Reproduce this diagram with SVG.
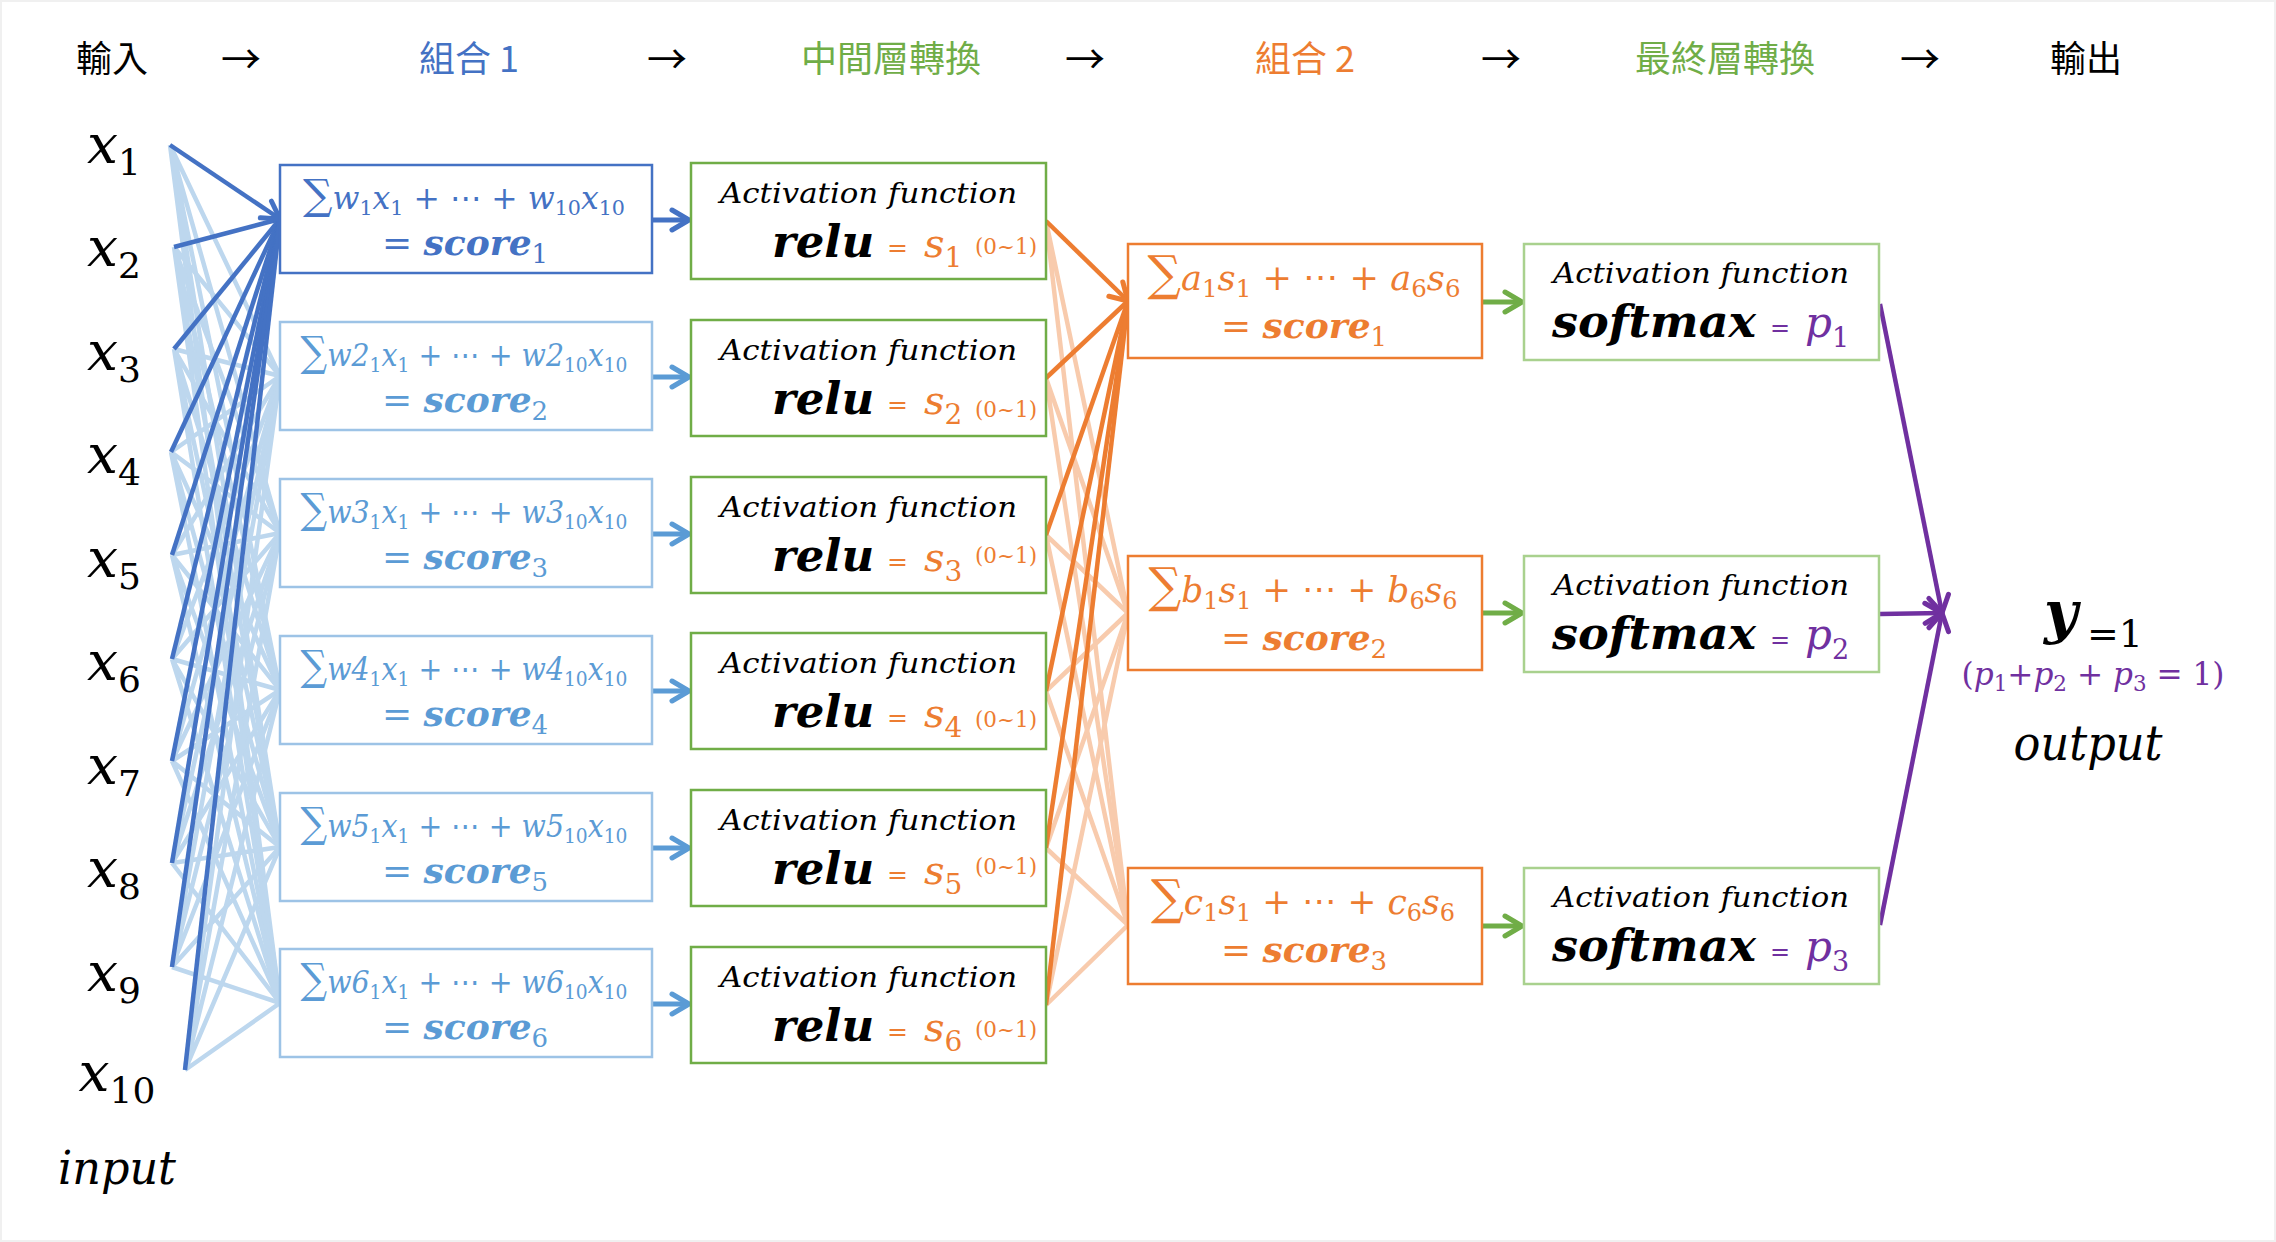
<svg xmlns="http://www.w3.org/2000/svg" width="2276" height="1242" viewBox="0 0 2276 1242">
<style>
.hdr{font-family:'Noto Sans CJK TC','Noto Sans CJK SC',sans-serif;font-size:36px;text-anchor:middle}
.arr{font-family:'Noto Sans CJK TC','DejaVu Sans',sans-serif;font-size:40px;text-anchor:middle;fill:#000}
.m{font-family:'DejaVu Serif','Liberation Serif',serif;font-style:italic}
.up{font-style:normal}
.b{font-weight:bold}
.bx1{fill:#fff;stroke:#4472C4;stroke-width:2.5}
.bx2{fill:#fff;stroke:#9DC3E6;stroke-width:2.5}
.gbx{fill:#fff;stroke:#70AD47;stroke-width:2.5}
.obx{fill:#fff;stroke:#ED7D31;stroke-width:2.5}
.sbx{fill:#fff;stroke:#A9D18E;stroke-width:2.5}
.lb{stroke:#BDD7EE;stroke-width:4.5;fill:none}
.db{stroke:#4472C4;stroke-width:4.5;fill:none}
.lo{stroke:#F8CBAD;stroke-width:4.5;fill:none}
.do{stroke:#ED7D31;stroke-width:4.5;fill:none}
.tb1{fill:#4472C4}
.tb2{fill:#5B9BD5}
.tor{fill:#ED7D31}
.tpu{fill:#7030A0}
.sg{font-size:42px}
.sgo{font-size:48px}
.rng{font-size:23px}
</style>
<defs>
<marker id="mdb" viewBox="-20 -12 24 24" refX="0" refY="0" markerWidth="24" markerHeight="24" orient="auto" markerUnits="userSpaceOnUse" overflow="visible"><path d="M-17,-10 L0,0 L-17,10" fill="none" stroke="#4472C4" stroke-width="5" stroke-linecap="round" stroke-linejoin="round"/></marker>
<marker id="mmb" viewBox="-20 -12 24 24" refX="0" refY="0" markerWidth="24" markerHeight="24" orient="auto" markerUnits="userSpaceOnUse" overflow="visible"><path d="M-17,-10 L0,0 L-17,10" fill="none" stroke="#5B9BD5" stroke-width="5" stroke-linecap="round" stroke-linejoin="round"/></marker>
<marker id="mor" viewBox="-20 -12 24 24" refX="0" refY="0" markerWidth="24" markerHeight="24" orient="auto" markerUnits="userSpaceOnUse" overflow="visible"><path d="M-17,-10 L0,0 L-17,10" fill="none" stroke="#ED7D31" stroke-width="5" stroke-linecap="round" stroke-linejoin="round"/></marker>
<marker id="mgr" viewBox="-20 -12 24 24" refX="0" refY="0" markerWidth="24" markerHeight="24" orient="auto" markerUnits="userSpaceOnUse" overflow="visible"><path d="M-17,-10 L0,0 L-17,10" fill="none" stroke="#70AD47" stroke-width="5" stroke-linecap="round" stroke-linejoin="round"/></marker>
<marker id="mpu" viewBox="-20 -12 24 24" refX="0" refY="0" markerWidth="24" markerHeight="24" orient="auto" markerUnits="userSpaceOnUse" overflow="visible"><path d="M-17,-10 L0,0 L-17,10" fill="none" stroke="#7030A0" stroke-width="5" stroke-linecap="round" stroke-linejoin="round"/></marker>
</defs>

<rect x="0" y="0" width="2276" height="1242" fill="#F0F0F0"/>
<rect x="2" y="2" width="2272" height="1238" fill="#FFFFFF"/>

<g id="headers">
<text class="hdr" x="112" y="72" fill="#000">輸入</text>
<text class="arr" x="241" y="74">→</text>
<text class="hdr" x="469" y="72" fill="#4472C4">組合 1</text>
<text class="arr" x="667" y="74">→</text>
<text class="hdr" x="891" y="72" fill="#70AD47">中間層轉換</text>
<text class="arr" x="1085" y="74">→</text>
<text class="hdr" x="1305" y="72" fill="#ED7D31">組合 2</text>
<text class="arr" x="1501" y="74">→</text>
<text class="hdr" x="1725" y="72" fill="#70AD47">最終層轉換</text>
<text class="arr" x="1920" y="74">→</text>
<text class="hdr" x="2086" y="72" fill="#000">輸出</text>
</g>

<g id="connectors">
<g id="input-light">
<path class="lb" d="M170,145 L280,376 M170,145 L280,533 M170,145 L280,690 M170,145 L280,847 M170,145 L280,1003"/>
<path class="lb" d="M174,247 L280,376 M174,247 L280,533 M174,247 L280,690 M174,247 L280,847 M174,247 L280,1003"/>
<path class="lb" d="M174,349 L280,376 M174,349 L280,533 M174,349 L280,690 M174,349 L280,847 M174,349 L280,1003"/>
<path class="lb" d="M171,452 L280,376 M171,452 L280,533 M171,452 L280,690 M171,452 L280,847 M171,452 L280,1003"/>
<path class="lb" d="M172,555 L280,376 M172,555 L280,533 M172,555 L280,690 M172,555 L280,847 M172,555 L280,1003"/>
<path class="lb" d="M172,659 L280,376 M172,659 L280,533 M172,659 L280,690 M172,659 L280,847 M172,659 L280,1003"/>
<path class="lb" d="M172,761 L280,376 M172,761 L280,533 M172,761 L280,690 M172,761 L280,847 M172,761 L280,1003"/>
<path class="lb" d="M172,863 L280,376 M172,863 L280,533 M172,863 L280,690 M172,863 L280,847 M172,863 L280,1003"/>
<path class="lb" d="M172,967 L280,376 M172,967 L280,533 M172,967 L280,690 M172,967 L280,847 M172,967 L280,1003"/>
<path class="lb" d="M185,1070 L280,376 M185,1070 L280,533 M185,1070 L280,690 M185,1070 L280,847 M185,1070 L280,1003"/>
</g>
<g id="input-dark">
<line class="db" x1="174" y1="247" x2="280" y2="219"/>
<line class="db" x1="174" y1="349" x2="280" y2="219"/>
<line class="db" x1="171" y1="452" x2="280" y2="219"/>
<line class="db" x1="172" y1="555" x2="280" y2="219"/>
<line class="db" x1="172" y1="659" x2="280" y2="219"/>
<line class="db" x1="172" y1="761" x2="280" y2="219"/>
<line class="db" x1="172" y1="863" x2="280" y2="219"/>
<line class="db" x1="172" y1="967" x2="280" y2="219"/>
<line class="db" x1="185" y1="1070" x2="280" y2="219"/>
<line class="db" x1="170" y1="145" x2="280" y2="219" marker-end="url(#mdb)"/>
</g>
<g id="score-to-relu">
<line x1="652" y1="220" x2="689" y2="220" stroke="#4472C4" stroke-width="5" marker-end="url(#mdb)"/>
<line x1="652" y1="377" x2="689" y2="377" stroke="#5B9BD5" stroke-width="5" marker-end="url(#mmb)"/>
<line x1="652" y1="534" x2="689" y2="534" stroke="#5B9BD5" stroke-width="5" marker-end="url(#mmb)"/>
<line x1="652" y1="691" x2="689" y2="691" stroke="#5B9BD5" stroke-width="5" marker-end="url(#mmb)"/>
<line x1="652" y1="848" x2="689" y2="848" stroke="#5B9BD5" stroke-width="5" marker-end="url(#mmb)"/>
<line x1="652" y1="1004" x2="689" y2="1004" stroke="#5B9BD5" stroke-width="5" marker-end="url(#mmb)"/>
</g>
<g id="relu-light">
<path class="lo" d="M1046,221 L1128,613 M1046,221 L1128,925"/>
<path class="lo" d="M1046,378 L1128,613 M1046,378 L1128,925"/>
<path class="lo" d="M1046,535 L1128,613 M1046,535 L1128,925"/>
<path class="lo" d="M1046,691 L1128,613 M1046,691 L1128,925"/>
<path class="lo" d="M1046,848 L1128,613 M1046,848 L1128,925"/>
<path class="lo" d="M1046,1005 L1128,613 M1046,1005 L1128,925"/>
</g>
<g id="relu-dark">
<line class="do" x1="1046" y1="378" x2="1128" y2="301"/>
<line class="do" x1="1046" y1="535" x2="1128" y2="301"/>
<line class="do" x1="1046" y1="691" x2="1128" y2="301"/>
<line class="do" x1="1046" y1="848" x2="1128" y2="301"/>
<line class="do" x1="1046" y1="1005" x2="1128" y2="301"/>
<line class="do" x1="1046" y1="221" x2="1128" y2="301" marker-end="url(#mor)"/>
</g>
<g id="score2-to-softmax">
<line x1="1482" y1="302" x2="1522" y2="302" stroke="#70AD47" stroke-width="5" marker-end="url(#mgr)"/>
<line x1="1482" y1="613" x2="1522" y2="613" stroke="#70AD47" stroke-width="5" marker-end="url(#mgr)"/>
<line x1="1482" y1="926" x2="1522" y2="926" stroke="#70AD47" stroke-width="5" marker-end="url(#mgr)"/>
</g>
<g id="softmax-to-output">
<line x1="1880" y1="304" x2="1942" y2="613" stroke="#7030A0" stroke-width="4.5" marker-end="url(#mpu)"/>
<line x1="1880" y1="614" x2="1942" y2="613" stroke="#7030A0" stroke-width="4.5" marker-end="url(#mpu)"/>
<line x1="1880" y1="925" x2="1942" y2="613" stroke="#7030A0" stroke-width="4.5" marker-end="url(#mpu)"/>
</g>
</g>

<g id="inputs" class="m" font-size="55" text-anchor="middle" fill="#000">
<text x="114" y="163">x<tspan class="up" font-size="36" dy="12">1</tspan></text>
<text x="114" y="266">x<tspan class="up" font-size="36" dy="12">2</tspan></text>
<text x="114" y="370">x<tspan class="up" font-size="36" dy="12">3</tspan></text>
<text x="114" y="473">x<tspan class="up" font-size="36" dy="12">4</tspan></text>
<text x="114" y="577">x<tspan class="up" font-size="36" dy="12">5</tspan></text>
<text x="114" y="680">x<tspan class="up" font-size="36" dy="12">6</tspan></text>
<text x="114" y="784">x<tspan class="up" font-size="36" dy="12">7</tspan></text>
<text x="114" y="887">x<tspan class="up" font-size="36" dy="12">8</tspan></text>
<text x="114" y="991">x<tspan class="up" font-size="36" dy="12">9</tspan></text>
<text x="117" y="1091">x<tspan class="up" font-size="36" dy="12">10</tspan></text>
<text x="117" y="1184" font-size="46" textLength="118" lengthAdjust="spacingAndGlyphs">input</text>
</g>

<g id="score1-1">
<rect class="bx1" x="280" y="165" width="372" height="108"/>
<text class="m tb1" x="464" y="209" text-anchor="middle" font-size="32" textLength="322" lengthAdjust="spacingAndGlyphs"><tspan class="sg">∑</tspan>w<tspan class="up" font-size="21" dy="6">1</tspan><tspan dy="-6">x</tspan><tspan class="up" font-size="21" dy="6">1</tspan><tspan class="up" dy="-6"> + ⋯ + </tspan>w<tspan class="up" font-size="21" dy="6">10</tspan><tspan dy="-6">x</tspan><tspan class="up" font-size="21" dy="6">10</tspan></text>
<text class="m tb1" x="465" y="255" text-anchor="middle" font-size="36"><tspan class="up">= </tspan><tspan class="b">score</tspan><tspan class="up" font-size="26" dy="8">1</tspan></text>
</g>
<g id="score1-2">
<rect class="bx2" x="280" y="322" width="372" height="108"/>
<text class="m tb2" x="464" y="366" text-anchor="middle" font-size="32" textLength="327" lengthAdjust="spacingAndGlyphs"><tspan class="sg">∑</tspan>w2<tspan class="up" font-size="21" dy="6">1</tspan><tspan dy="-6">x</tspan><tspan class="up" font-size="21" dy="6">1</tspan><tspan class="up" dy="-6"> + ⋯ + </tspan>w2<tspan class="up" font-size="21" dy="6">10</tspan><tspan dy="-6">x</tspan><tspan class="up" font-size="21" dy="6">10</tspan></text>
<text class="m tb2" x="465" y="412" text-anchor="middle" font-size="36"><tspan class="up">= </tspan><tspan class="b">score</tspan><tspan class="up" font-size="26" dy="8">2</tspan></text>
</g>
<g id="score1-3">
<rect class="bx2" x="280" y="479" width="372" height="108"/>
<text class="m tb2" x="464" y="523" text-anchor="middle" font-size="32" textLength="327" lengthAdjust="spacingAndGlyphs"><tspan class="sg">∑</tspan>w3<tspan class="up" font-size="21" dy="6">1</tspan><tspan dy="-6">x</tspan><tspan class="up" font-size="21" dy="6">1</tspan><tspan class="up" dy="-6"> + ⋯ + </tspan>w3<tspan class="up" font-size="21" dy="6">10</tspan><tspan dy="-6">x</tspan><tspan class="up" font-size="21" dy="6">10</tspan></text>
<text class="m tb2" x="465" y="569" text-anchor="middle" font-size="36"><tspan class="up">= </tspan><tspan class="b">score</tspan><tspan class="up" font-size="26" dy="8">3</tspan></text>
</g>
<g id="score1-4">
<rect class="bx2" x="280" y="636" width="372" height="108"/>
<text class="m tb2" x="464" y="680" text-anchor="middle" font-size="32" textLength="327" lengthAdjust="spacingAndGlyphs"><tspan class="sg">∑</tspan>w4<tspan class="up" font-size="21" dy="6">1</tspan><tspan dy="-6">x</tspan><tspan class="up" font-size="21" dy="6">1</tspan><tspan class="up" dy="-6"> + ⋯ + </tspan>w4<tspan class="up" font-size="21" dy="6">10</tspan><tspan dy="-6">x</tspan><tspan class="up" font-size="21" dy="6">10</tspan></text>
<text class="m tb2" x="465" y="726" text-anchor="middle" font-size="36"><tspan class="up">= </tspan><tspan class="b">score</tspan><tspan class="up" font-size="26" dy="8">4</tspan></text>
</g>
<g id="score1-5">
<rect class="bx2" x="280" y="793" width="372" height="108"/>
<text class="m tb2" x="464" y="837" text-anchor="middle" font-size="32" textLength="327" lengthAdjust="spacingAndGlyphs"><tspan class="sg">∑</tspan>w5<tspan class="up" font-size="21" dy="6">1</tspan><tspan dy="-6">x</tspan><tspan class="up" font-size="21" dy="6">1</tspan><tspan class="up" dy="-6"> + ⋯ + </tspan>w5<tspan class="up" font-size="21" dy="6">10</tspan><tspan dy="-6">x</tspan><tspan class="up" font-size="21" dy="6">10</tspan></text>
<text class="m tb2" x="465" y="883" text-anchor="middle" font-size="36"><tspan class="up">= </tspan><tspan class="b">score</tspan><tspan class="up" font-size="26" dy="8">5</tspan></text>
</g>
<g id="score1-6">
<rect class="bx2" x="280" y="949" width="372" height="108"/>
<text class="m tb2" x="464" y="993" text-anchor="middle" font-size="32" textLength="327" lengthAdjust="spacingAndGlyphs"><tspan class="sg">∑</tspan>w6<tspan class="up" font-size="21" dy="6">1</tspan><tspan dy="-6">x</tspan><tspan class="up" font-size="21" dy="6">1</tspan><tspan class="up" dy="-6"> + ⋯ + </tspan>w6<tspan class="up" font-size="21" dy="6">10</tspan><tspan dy="-6">x</tspan><tspan class="up" font-size="21" dy="6">10</tspan></text>
<text class="m tb2" x="465" y="1039" text-anchor="middle" font-size="36"><tspan class="up">= </tspan><tspan class="b">score</tspan><tspan class="up" font-size="26" dy="8">6</tspan></text>
</g>

<g id="relu-1">
<rect class="gbx" x="691" y="163" width="355" height="116"/>
<text class="m" x="720" y="203" font-size="28" textLength="297" lengthAdjust="spacingAndGlyphs">Activation function</text>
<text class="m b" x="772" y="257" font-size="45">relu</text>
<text class="m up tor" x="887" y="256" font-size="25">=</text>
<text class="m tor" x="924" y="257" font-size="40">s<tspan class="up" font-size="28" dy="10">1</tspan></text>
<text class="m up tor rng" x="975" y="254" textLength="62" lengthAdjust="spacingAndGlyphs">(0~1)</text>
</g>
<g id="relu-2">
<rect class="gbx" x="691" y="320" width="355" height="116"/>
<text class="m" x="720" y="360" font-size="28" textLength="297" lengthAdjust="spacingAndGlyphs">Activation function</text>
<text class="m b" x="772" y="414" font-size="45">relu</text>
<text class="m up tor" x="887" y="413" font-size="25">=</text>
<text class="m tor" x="924" y="414" font-size="40">s<tspan class="up" font-size="28" dy="10">2</tspan></text>
<text class="m up tor rng" x="975" y="417" textLength="62" lengthAdjust="spacingAndGlyphs">(0~1)</text>
</g>
<g id="relu-3">
<rect class="gbx" x="691" y="477" width="355" height="116"/>
<text class="m" x="720" y="517" font-size="28" textLength="297" lengthAdjust="spacingAndGlyphs">Activation function</text>
<text class="m b" x="772" y="571" font-size="45">relu</text>
<text class="m up tor" x="887" y="570" font-size="25">=</text>
<text class="m tor" x="924" y="571" font-size="40">s<tspan class="up" font-size="28" dy="10">3</tspan></text>
<text class="m up tor rng" x="975" y="563" textLength="62" lengthAdjust="spacingAndGlyphs">(0~1)</text>
</g>
<g id="relu-4">
<rect class="gbx" x="691" y="633" width="355" height="116"/>
<text class="m" x="720" y="673" font-size="28" textLength="297" lengthAdjust="spacingAndGlyphs">Activation function</text>
<text class="m b" x="772" y="727" font-size="45">relu</text>
<text class="m up tor" x="887" y="726" font-size="25">=</text>
<text class="m tor" x="924" y="727" font-size="40">s<tspan class="up" font-size="28" dy="10">4</tspan></text>
<text class="m up tor rng" x="975" y="727" textLength="62" lengthAdjust="spacingAndGlyphs">(0~1)</text>
</g>
<g id="relu-5">
<rect class="gbx" x="691" y="790" width="355" height="116"/>
<text class="m" x="720" y="830" font-size="28" textLength="297" lengthAdjust="spacingAndGlyphs">Activation function</text>
<text class="m b" x="772" y="884" font-size="45">relu</text>
<text class="m up tor" x="887" y="883" font-size="25">=</text>
<text class="m tor" x="924" y="884" font-size="40">s<tspan class="up" font-size="28" dy="10">5</tspan></text>
<text class="m up tor rng" x="975" y="874" textLength="62" lengthAdjust="spacingAndGlyphs">(0~1)</text>
</g>
<g id="relu-6">
<rect class="gbx" x="691" y="947" width="355" height="116"/>
<text class="m" x="720" y="987" font-size="28" textLength="297" lengthAdjust="spacingAndGlyphs">Activation function</text>
<text class="m b" x="772" y="1041" font-size="45">relu</text>
<text class="m up tor" x="887" y="1040" font-size="25">=</text>
<text class="m tor" x="924" y="1041" font-size="40">s<tspan class="up" font-size="28" dy="10">6</tspan></text>
<text class="m up tor rng" x="975" y="1037" textLength="62" lengthAdjust="spacingAndGlyphs">(0~1)</text>
</g>

<g id="score2-1">
<rect class="obx" x="1128" y="244" width="354" height="114"/>
<text class="m tor" x="1304" y="290" text-anchor="middle" font-size="36" textLength="313" lengthAdjust="spacingAndGlyphs"><tspan class="sgo">∑</tspan>a<tspan class="up" font-size="25" dy="7">1</tspan><tspan dy="-7">s</tspan><tspan class="up" font-size="25" dy="7">1</tspan><tspan class="up" dy="-7"> + ⋯ + </tspan>a<tspan class="up" font-size="25" dy="7">6</tspan><tspan dy="-7">s</tspan><tspan class="up" font-size="25" dy="7">6</tspan></text>
<text class="m tor" x="1304" y="338" text-anchor="middle" font-size="36"><tspan class="up">= </tspan><tspan class="b">score</tspan><tspan class="up" font-size="26" dy="8">1</tspan></text>
</g>
<g id="score2-2">
<rect class="obx" x="1128" y="556" width="354" height="114"/>
<text class="m tor" x="1303" y="602" text-anchor="middle" font-size="36" textLength="309" lengthAdjust="spacingAndGlyphs"><tspan class="sgo">∑</tspan>b<tspan class="up" font-size="25" dy="7">1</tspan><tspan dy="-7">s</tspan><tspan class="up" font-size="25" dy="7">1</tspan><tspan class="up" dy="-7"> + ⋯ + </tspan>b<tspan class="up" font-size="25" dy="7">6</tspan><tspan dy="-7">s</tspan><tspan class="up" font-size="25" dy="7">6</tspan></text>
<text class="m tor" x="1304" y="650" text-anchor="middle" font-size="36"><tspan class="up">= </tspan><tspan class="b">score</tspan><tspan class="up" font-size="26" dy="8">2</tspan></text>
</g>
<g id="score2-3">
<rect class="obx" x="1128" y="868" width="354" height="116"/>
<text class="m tor" x="1303" y="914" text-anchor="middle" font-size="36" textLength="304" lengthAdjust="spacingAndGlyphs"><tspan class="sgo">∑</tspan>c<tspan class="up" font-size="25" dy="7">1</tspan><tspan dy="-7">s</tspan><tspan class="up" font-size="25" dy="7">1</tspan><tspan class="up" dy="-7"> + ⋯ + </tspan>c<tspan class="up" font-size="25" dy="7">6</tspan><tspan dy="-7">s</tspan><tspan class="up" font-size="25" dy="7">6</tspan></text>
<text class="m tor" x="1304" y="962" text-anchor="middle" font-size="36"><tspan class="up">= </tspan><tspan class="b">score</tspan><tspan class="up" font-size="26" dy="8">3</tspan></text>
</g>

<g id="softmax-1">
<rect class="sbx" x="1524" y="244" width="355" height="116"/>
<text class="m" x="1553" y="283" font-size="28" textLength="296" lengthAdjust="spacingAndGlyphs">Activation function</text>
<text class="m b" x="1552" y="337" font-size="44" textLength="204" lengthAdjust="spacingAndGlyphs">softmax</text>
<text class="m up tpu" x="1770" y="336" font-size="24">=</text>
<text class="m tpu" x="1805" y="337" font-size="42">p<tspan class="up" font-size="27" dy="10">1</tspan></text>
</g>
<g id="softmax-2">
<rect class="sbx" x="1524" y="556" width="355" height="116"/>
<text class="m" x="1553" y="595" font-size="28" textLength="296" lengthAdjust="spacingAndGlyphs">Activation function</text>
<text class="m b" x="1552" y="649" font-size="44" textLength="204" lengthAdjust="spacingAndGlyphs">softmax</text>
<text class="m up tpu" x="1770" y="648" font-size="24">=</text>
<text class="m tpu" x="1805" y="649" font-size="42">p<tspan class="up" font-size="27" dy="10">2</tspan></text>
</g>
<g id="softmax-3">
<rect class="sbx" x="1524" y="868" width="355" height="116"/>
<text class="m" x="1553" y="907" font-size="28" textLength="296" lengthAdjust="spacingAndGlyphs">Activation function</text>
<text class="m b" x="1552" y="961" font-size="44" textLength="204" lengthAdjust="spacingAndGlyphs">softmax</text>
<text class="m up tpu" x="1770" y="960" font-size="24">=</text>
<text class="m tpu" x="1805" y="961" font-size="42">p<tspan class="up" font-size="27" dy="10">3</tspan></text>
</g>

<g id="output">
<text class="m b" x="2044" y="632" font-size="58" fill="#000">y</text>
<text class="m up" x="2087" y="647" font-size="38" fill="#000" textLength="56" lengthAdjust="spacingAndGlyphs">=1</text>
<text class="m tpu" x="2093" y="685" text-anchor="middle" font-size="32" textLength="263" lengthAdjust="spacingAndGlyphs"><tspan class="up">(</tspan>p<tspan class="up" font-size="22" dy="6">1</tspan><tspan class="up" dy="-6">+</tspan>p<tspan class="up" font-size="22" dy="6">2</tspan><tspan class="up" dy="-6"> + </tspan>p<tspan class="up" font-size="22" dy="6">3</tspan><tspan class="up" dy="-6"> = 1)</tspan></text>
<text class="m" x="2088" y="760" text-anchor="middle" font-size="48" fill="#000" textLength="149" lengthAdjust="spacingAndGlyphs">output</text>
</g>
</svg>
